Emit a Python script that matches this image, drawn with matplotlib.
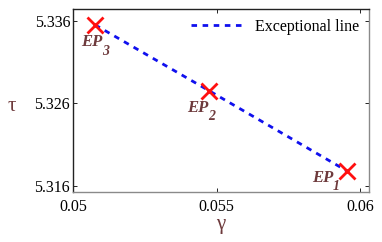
import numpy as np
import matplotlib
matplotlib.use("Agg")
from matplotlib import pyplot as plt

# exceptional points (gamma, tau)
gamma = [0.05077, 0.05475, 0.05954]
tau = [5.3355, 5.3275, 5.3178]
ep_names = ['3', '2', '1']

xticks = [0.05, 0.055, 0.06]
xticklabels = ['0.05', '0.055', '0.06']
yticks = [5.316, 5.326, 5.336]
yticklabels = ['5.316', '5.326', '5.336']

plt.rcParams['font.family'] = ['Liberation Serif', 'DejaVu Serif']

brown = '#6e3a3c'

fig = plt.figure(figsize=(3.82, 2.42), dpi=100)
ax = fig.add_axes([0.191, 0.205, 0.775, 0.757])

ax.plot(gamma, tau, color='#1010ee', lw=2.0, ls=(0, (2.0, 2.0)), label='Exceptional line')
ax.plot(gamma, tau, 'x', color='#ff1010', ms=11, mew=2)

# label offsets in pixels: "EP" left/centre, then the index
offs_ep = [(-14, -17), (-22, -17), (-35, -7)]
offs_n = [(7, -27), (-1, -26), (-14, -16)]
for g, t, n, o1, o2 in zip(gamma, tau, ep_names, offs_ep, offs_n):
    ax.annotate('EP', (g, t), xytext=o1, textcoords='offset pixels',
                fontsize=12, color=brown, fontweight='bold', fontstyle='italic',
                ha='left', va='center')
    ax.annotate(n, (g, t), xytext=o2, textcoords='offset pixels',
                fontsize=10, color=brown, fontweight='bold', fontstyle='italic',
                ha='left', va='center')

ax.set_xlim(0.05, 0.06031)
ax.set_ylim(5.3152, 5.3374)
ax.set_xticks(xticks)
ax.set_xticklabels(xticklabels)
ax.set_yticks(yticks)
ax.set_yticklabels(yticklabels)
ax.tick_params(direction='in', length=3, width=0.6, labelsize=11.5,
               top=True, right=True, pad=2)
ax.tick_params(axis='x', pad=5)

for s in ['left', 'top']:
    ax.spines[s].set_color('#222222')
for s in ['bottom', 'right']:
    ax.spines[s].set_color('#8a8a8a')
for s in ax.spines.values():
    s.set_linewidth(1.0)

ax.set_xlabel('γ', fontsize=15, color=brown, labelpad=0)
ax.set_ylabel('τ', fontsize=15, color=brown, rotation=0, va='center')
ax.yaxis.set_label_coords(-0.205, 0.47)

ax.legend(loc='upper right', frameon=False, fontsize=11.5, handlelength=3.2,
          borderaxespad=0.2, handletextpad=0.8)

plt.savefig('out.png', dpi=100)
